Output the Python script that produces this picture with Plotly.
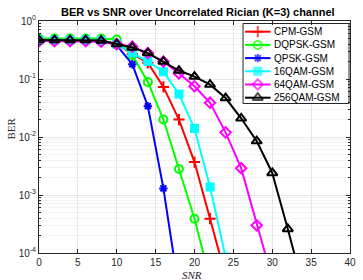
import plotly.graph_objects as go

snr = [0, 2, 4, 6, 8, 10, 12, 14, 16, 18, 20, 22, 24, 26, 28, 30, 32, 34]

cpm = [0.47, 0.47, 0.47, 0.47, 0.46, 0.40, 0.27, 0.19, 0.073, 0.020, 3.7e-3, 3.9e-4, 4e-5]
dqpsk = [0.50, 0.50, 0.50, 0.50, 0.50, 0.48, 0.26, 0.089, 0.020, 2.8e-3, 3.9e-4, 3.5e-5]
qpsk = [0.47, 0.47, 0.47, 0.47, 0.46, 0.38, 0.18, 0.034, 1.3e-3, 2.3e-5]
qam16 = [0.47, 0.47, 0.47, 0.47, 0.46, 0.40, 0.28, 0.20, 0.133, 0.055, 0.014, 1.38e-3, 8.5e-5]
qam64 = [0.45, 0.45, 0.45, 0.45, 0.44, 0.40, 0.36, 0.28, 0.20, 0.125, 0.075, 0.039, 0.012, 2.9e-3, 3e-4, 3.6e-5]
qam256 = [0.47, 0.47, 0.47, 0.47, 0.46, 0.40, 0.35, 0.28, 0.20, 0.14, 0.11, 0.08, 0.047, 0.021, 8.5e-3, 2.4e-3, 2.6e-4, 2.5e-5]

names = ["CPM-GSM", "DQPSK-GSM", "QPSK-GSM", "16QAM-GSM", "64QAM-GSM", "256QAM-GSM"]
series = [cpm, dqpsk, qpsk, qam16, qam64, qam256]
colors = ["#FF0000", "#00FF00", "#0000FF", "#00FFFF", "#FF00FF", "#000000"]
symbols = ["cross-thin-open", "circle-open", "asterisk-open", "square", "diamond-open", "triangle-up-open"]
msizes = [8, 8, 7, 7, 8, 9]

ytickvals = [1e-4, 1e-3, 1e-2, 1e-1, 1]
yticktext = ["10<sup>-4</sup>", "10<sup>-3</sup>", "10<sup>-2</sup>", "10<sup>-1</sup>", "10<sup>0</sup>"]
xtickvals = [0, 5, 10, 15, 20, 25, 30, 35, 40]

# figure geometry (pixels)
W, H = 363, 280
ML, MR, MT, MB = 39, 7, 21, 27
PW, PH = W - ML - MR, H - MT - MB


def fx(px):
    return (px - ML) / PW


def fy(py):
    return (H - MB - py) / PH


fig = go.Figure()
for name, ys, c, s, ms in zip(names, series, colors, symbols, msizes):
    fig.add_trace(go.Scatter(
        x=snr[:len(ys)], y=ys, name=name, mode="lines+markers", showlegend=False,
        line=dict(color=c, width=2),
        marker=dict(symbol=s, size=ms, color=c, line=dict(color=c, width=2)),
    ))

# MATLAB-style legend box drawn on an overlay axis (compact rows)
box_l, box_r, box_t, box_b = 247, 355, 23.5, 103.5
row0, row_step = 31.7, 13.2
fig.add_trace(go.Scatter(
    x=[fx(box_l), fx(box_r), fx(box_r), fx(box_l), fx(box_l)],
    y=[fy(box_t), fy(box_t), fy(box_b), fy(box_b), fy(box_t)],
    xaxis="x2", yaxis="y2", mode="lines", fill="toself", fillcolor="white",
    line=dict(color="#262626", width=1), showlegend=False, hoverinfo="skip",
))
annotations = []
for i, (name, c, s, ms) in enumerate(zip(names, colors, symbols, msizes)):
    py = row0 + row_step * i
    fig.add_trace(go.Scatter(
        x=[fx(249), fx(262), fx(275)], y=[fy(py)] * 3,
        xaxis="x2", yaxis="y2", mode="lines+markers", showlegend=False, hoverinfo="skip",
        line=dict(color=c, width=2),
        marker=dict(symbol=s, size=[0, ms, 0], color=c, line=dict(color=c, width=2)),
    ))
    annotations.append(dict(
        text=name, xref="x2", yref="y2", x=fx(276), y=fy(py),
        xanchor="left", yanchor="middle", showarrow=False,
        font=dict(family="Liberation Sans, Arial", size=10, color="black"),
    ))

axis_common = dict(
    showline=True, linecolor="#262626", linewidth=1, mirror="ticks",
    ticks="inside", ticklen=4, tickcolor="#262626",
    showgrid=True, gridcolor="#E6E6E6", gridwidth=1, zeroline=False,
    tickfont=dict(family="Liberation Sans, Arial", size=10, color="#262626"),
)

annotations += [
    dict(text="<i>SNR</i>", xref="paper", yref="paper", x=fx(195), y=fy(274.5),
         xanchor="center", yanchor="middle", showarrow=False,
         font=dict(family="Liberation Serif, Times New Roman", size=11, color="#262626")),
    dict(text="BER", xref="paper", yref="paper", x=fx(10), y=fy(129), textangle=-90,
         xanchor="center", yanchor="middle", showarrow=False,
         font=dict(family="Liberation Serif, Times New Roman", size=11, color="#262626")),
]

fig.update_layout(
    width=W, height=H,
    margin=dict(l=ML, r=MR, t=MT, b=MB),
    paper_bgcolor="white", plot_bgcolor="white",
    title=dict(text="<b>BER vs SNR over Uncorrelated Rician (K=3) channel</b>",
               x=0.545, xanchor="center", y=0.955, yanchor="middle",
               font=dict(family="Liberation Sans, Arial", size=11, color="black")),
    xaxis=dict(range=[0, 40], tickvals=xtickvals, **axis_common),
    yaxis=dict(type="log", range=[-4, 0], tickvals=ytickvals, ticktext=yticktext,
               minor=dict(showgrid=True, gridcolor="#F2F2F2", ticks="inside", ticklen=2,
                          tickcolor="#262626", dtick="D1"),
               **axis_common),
    xaxis2=dict(overlaying="x", range=[0, 1], visible=False, fixedrange=True),
    yaxis2=dict(overlaying="y", range=[0, 1], visible=False, fixedrange=True),
    showlegend=False,
    annotations=annotations,
)

fig.write_html("out.html")
